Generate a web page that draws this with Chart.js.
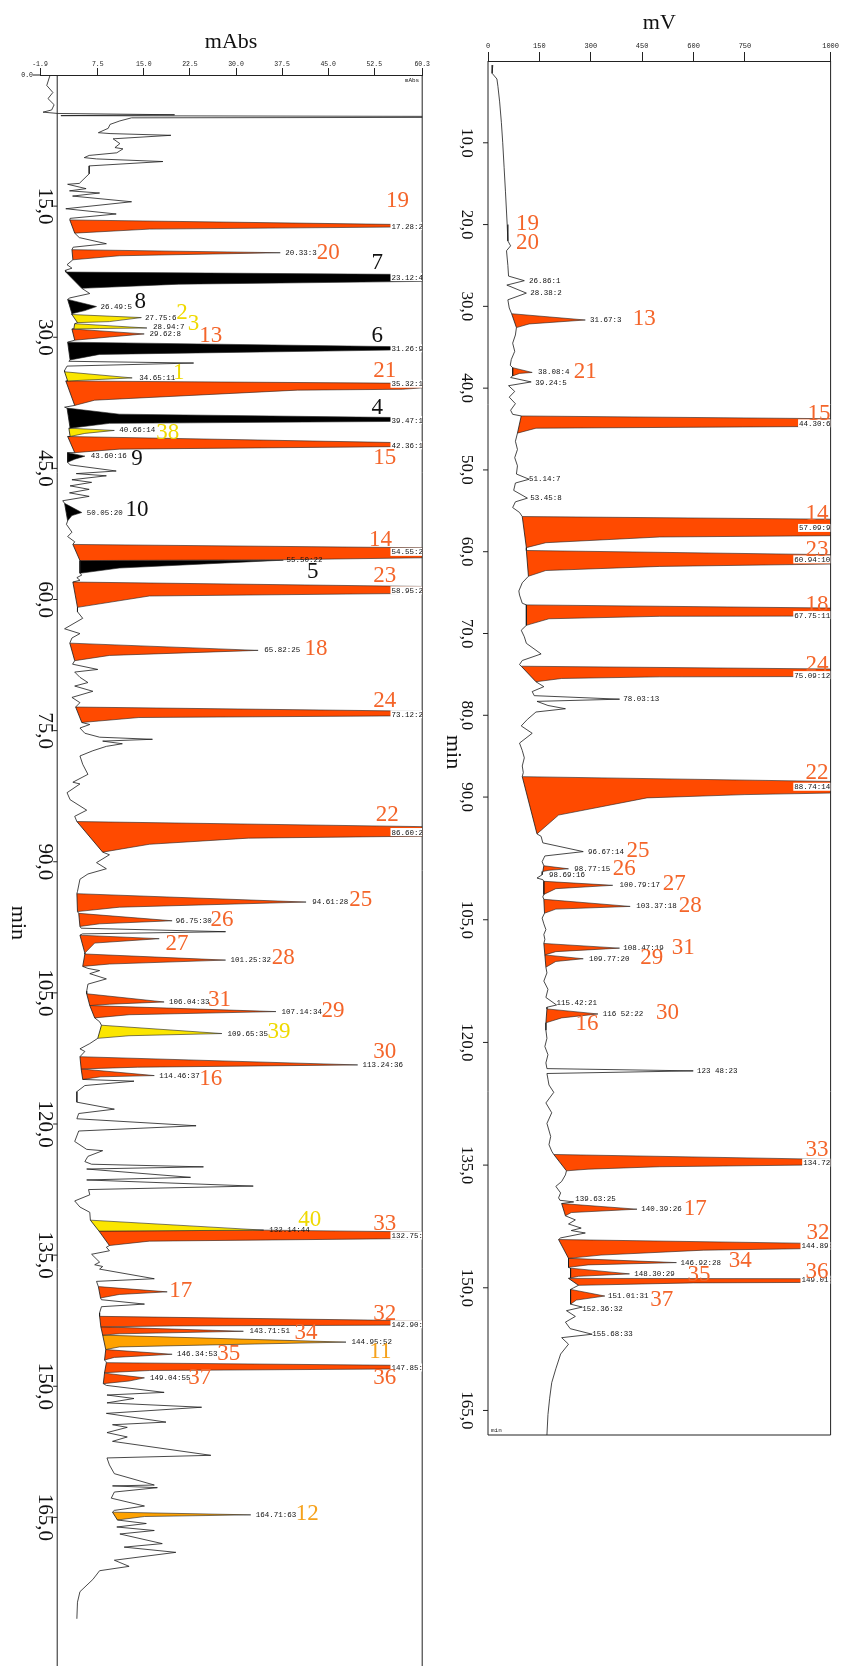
<!DOCTYPE html>
<html>
<head>
<meta charset="utf-8">
<script src="https://cdn.jsdelivr.net/npm/chart.js@4.4.1/dist/chart.umd.min.js"></script>
<style>
  body { margin: 0; background: #fff; width: 841px; height: 1666px; position: relative; overflow: hidden; }
  #left { position: absolute; left: 0; top: 0; }
  #right { position: absolute; left: 430px; top: 0; }
</style>
</head>
<body>
<canvas id="left" width="430" height="1666"></canvas>
<canvas id="right" width="411" height="1460"></canvas>
<script>
// ---- left chromatogram (mAbs) ----
const leftXTicks = [-1.9, 7.5, 15.0, 22.5, 30.0, 37.5, 45.0, 52.5, 60.3];
const leftXTickLabels = ['-1.9', '7.5', '15.0', '22.5', '30.0', '37.5', '45.0', '52.5', '60.3'];
const leftTimeTicks = [0, 15, 30, 45, 60, 75, 90, 105, 120, 135, 150, 165];
const leftTimeLabels = ['0.0', '15,0', '30,0', '45,0', '60,0', '75,0', '90,0', '105,0', '120,0', '135,0', '150,0', '165,0'];

const leftTraceT = [0.1,1.2,2.0,2.7,3.4,4.0,4.25,4.4,4.55,4.65,
  4.8,4.9,5.25,5.65,6.1,6.6,6.7,6.9,7.3,7.85,
  8.3,8.45,8.9,9.2,9.45,9.6,9.9,10.4,11.3,12.4,
  12.5,13.0,13.25,13.5,13.85,14.5,15.3,15.9,16.4,18.6,
  19.3,19.7,21.7,22.1,22.35,25.0,25.5,32.75,32.95,33.3,
  33.8,38.0,44.6,45.3,45.6,45.85,46.3,46.6,47.0,47.4,
  47.8,48.2,48.7,51.4,52.3,52.8,53.4,57.2,57.5,57.8,
  61.4,62.15,63.35,63.9,64.4,67.4,68.0,68.3,68.9,69.5,
  69.9,70.5,71.2,71.8,74.3,74.7,75.3,75.75,75.99,76.2,
  76.5,76.8,77.3,77.9,78.85,80.0,80.9,81.1,82.1,82.9,
  84.1,84.8,89.2,90.1,90.8,91.4,92.0,93.4,97.6,98.0,
  98.25,102.2,102.45,102.8,103.4,104.0,104.8,108.3,110.8,111.4,
  111.7,115.1,115.6,116.3,117.5,118.3,118.8,119.4,120.2,120.8,
  122.0,122.9,123.05,123.7,124.3,124.6,124.9,125.15,126.1,126.4,
  127.1,127.5,128.1,128.8,129.5,130.1,134.1,134.5,134.9,135.8,
  136.1,136.3,136.6,137.7,138.0,140.1,140.6,140.9,141.6,147.15,
  149.9,150.7,151.0,151.4,151.9,152.4,153.1,154.1,154.4,154.7,
  155.3,155.8,156.3,157.9,158.2,159.0,160.0,161.3,161.4,161.6,
  162.1,162.8,163.7,164.2,165.7,166.1,166.5,166.9,168.0,168.4,
  169.0,169.9,170.6,171.1,172.1,173.5,174.7,176.6];
const leftTraceV = [-0.3,-0.8,0.2,-0.6,0.4,0.0,-1.4,1.0,20.0,1.5,
  110,13.0,11.1,9.5,9.2,7.6,9.5,19.4,10.0,11.1,
  10.3,11.6,10.6,6.1,5.3,7.3,18.1,6.1,6.1,4.5,
  2.6,5.6,2.9,7.8,3.4,13.0,2.3,10.5,3.0,4.5,
  8.9,3.5,2.5,3.3,2.2,6.2,2.95,2.8,23.1,2.5,
  2.1,2.1,3.0,10.5,4.0,8.9,3.3,6.5,3.0,6.1,
  2.9,6.1,1.8,2.4,3.3,2.6,3.75,4.9,4.1,4.6,
  4.2,5.05,2.1,4.6,3.3,3.4,7.5,3.75,4.6,5.9,
  3.75,6.7,3.3,4.6,6.2,4.6,5.4,7.8,16.4,8.3,
  11.5,8.9,6.7,4.6,5.05,5.9,3.45,4.6,2.5,3.0,
  5.7,3.75,9.4,7.3,8.9,5.9,4.6,4.2,4.8,28.3,
  5.0,5.9,7.8,6.2,8.9,5.9,5.7,7.8,6.2,4.6,
  5.4,13.4,5.4,4.1,4.1,10.2,4.4,4.1,23.5,4.4,
  3.75,5.7,8.3,5.9,5.4,6.5,24.7,5.7,22.6,5.7,
  32.8,6.0,6.2,3.75,4.6,6.2,8.9,9.4,6.5,7.8,
  7.0,8.3,7.8,16.7,7.3,8.1,15.1,8.1,7.8,8.8,
  8.9,18.3,9.0,13.4,9.0,24.4,8.9,18.6,9.9,12.3,
  9.0,12.3,9.9,25.9,9.0,9.4,10.2,16.7,9.9,17.2,
  10.2,9.7,15.1,10.2,15.4,10.6,16.7,11.1,18.0,11.8,
  20.2,10.2,12.6,7.8,6.7,4.6,4.2,4.1];

// integrated peaks: numbers, class (r orange, k black, y yellow, a amber), outline vertices
const leftPeakIds = ['19','20','7','8','2','3','13','6','1','21','4','38','15','9','10','14','5','23','18','24',
  '22','25','26','27','28','31','29','39','30','16','40','33','17','32','34','11','35','36','37','12'];
const leftPeakGroups = ['r','r','k','k','y','y','r','k','y','r','k','y','r','k','k','r','k','r','r','r',
  'r','r','r','r','r','r','r','y','r','r','y','r','r','r','r','a','r','r','r','a'];
const leftPeakT = [
  [16.58,17.28,17.63,18.09], [19.98,20.33,20.68,21.14], [22.54,23.12,23.93,24.4], [25.67,26.49,26.95,27.3],
  [27.4,27.75,28.21,28.33], [28.45,28.94,29.0,29.05], [29.05,29.62,29.97,30.34], [30.56,31.26,31.96,32.6],
  [33.95,34.65,34.88,35.0], [35.0,35.32,35.95,36.05,37.2,37.8], [38.1,38.8,39.47,39.85,40.4], [40.4,40.66,41.0,41.35],
  [41.35,42.36,42.8,43.2], [43.2,43.6,43.95,44.3], [49.0,50.05,50.4,51.0], [53.7,54.55,55.45,55.55],
  [55.55,55.5,56.4,57.0], [58.0,58.95,59.6,60.9], [64.99,65.82,66.4,67.0], [72.3,73.12,73.5,74.07],
  [85.4,86.6,87.3,88.0,88.9], [93.65,94.61,95.2,95.7], [95.9,96.75,97.1,97.4], [98.4,98.8,99.3,100.45],
  [100.55,101.25,101.7,101.97], [105.1,106.04,106.3,106.45], [106.45,107.14,107.5,107.86], [108.7,109.65,109.9,110.2],
  [112.3,113.24,113.5,113.7], [113.7,114.46,114.6,114.9], [131.0,132.14,132.25], [132.25,132.14,132.75,133.4,133.9],
  [138.6,139.2,139.5,139.9], [142.0,142.9,143.1,143.2], [143.2,143.71,144.0,144.15], [144.15,144.95,145.3,145.5,145.8],
  [145.8,146.34,146.7,147.0], [147.3,147.85,148.2,148.45], [148.5,149.04,149.4,149.7], [164.4,164.71,164.9,165.3]];
const leftPeakV = [
  [2.95,75,15.9,3.75], [3.3,37.2,11.0,3.45], [2.3,120,20.7,4.9], [2.6,7.3,5.4,3.3],
  [3.3,14.6,9.4,4.2], [3.75,15.5,7.8,3.6], [3.3,15.06,9.4,3.75], [2.6,75,7.8,3.0],
  [2.1,13.1,6.2,2.6], [2.3,70,57.1,40,7.0,3.75], [2.5,11.0,90,9.4,3.0], [2.8,10.2,5.4,3.0],
  [2.6,80,11.0,3.75], [2.6,5.4,3.75,2.6], [2.1,4.9,3.3,2.6], [3.45,130,37.7,4.6],
  [4.6,37.7,11.0,4.6], [3.45,110,15.9,4.2], [2.95,33.6,9.4,3.75], [3.9,100,14.2,4.9],
  [4.1,120,32.0,15.9,8.3], [4.1,41.4,11.0,4.2], [4.4,19.6,7.8,4.6], [4.6,17.5,7.0,5.4],
  [5.4,28.3,9.4,5.05], [5.7,18.3,9.4,6.2], [6.2,36.5,12.6,7.0], [8.1,27.7,12.6,7.5],
  [4.6,49.8,14.0,4.8], [4.8,16.7,8.0,5.05], [6.3,34.5,7.7], [7.7,34.5,110,15.9,9.4],
  [7.6,18.8,11.0,7.95], [7.8,100,20,8.0], [8.0,31.2,11.0,8.3], [8.3,47.9,24,11,8.8],
  [8.8,19.6,10.2,8.6], [8.9,95,15.9,8.6], [8.6,15.1,12.6,8.4], [9.9,32.4,15.1,10.7]];
// where each peak number is written (time, mAbs)
const leftNumT = [14.4,20.33,21.5,26.0,27.2,28.5,29.9,29.8,34.1,33.9,38.1,40.9,43.8,43.9,49.7,53.2,56.8,57.3,65.6,71.6,
  84.7,94.4,96.65,99.4,101.0,105.8,107.1,109.5,111.7,114.9,131.0,131.4,139.1,141.7,143.9,146.1,146.3,149.1,149.1,164.6];
const leftNumV = [56.3,45.0,53.0,14.4,21.2,23.1,25.9,53.0,20.7,54.2,53.0,18.9,54.2,13.9,13.9,53.5,42.5,54.2,43.0,54.2,
  54.6,50.3,27.7,20.4,37.7,27.3,45.8,37.0,54.2,25.9,42.0,54.2,21.0,54.2,41.4,53.5,28.8,54.2,24.1,41.6];
// retention time : peak index labels printed by the integrator
const leftRtText = ['17.28:2','20.33:3','23.12:4','26.49:5','27.75:6','28.94:7','29.62:8','31.26:9','34.65:11','35.32:12',
  '39.47:13','40.66:14','42.36:15','43.60:16','50.05:20','54.55:21','55.50:22','58.95:23','65.82:25','73.12:26',
  '86.60:27','94.61:28','96.75:30','101.25:32','106.04:33','107.14:34','109.65:35','113.24:36','114.46:37','132.14:44',
  '132.75:45','142.90:50','143.71:51','144.95:52','146.34:53','147.85:54','149.04:55','164.71:63'];
const leftRtT = [17.28,20.33,23.12,26.49,27.75,28.8,29.62,31.26,34.65,35.32,
  39.47,40.66,42.36,43.60,50.05,54.55,55.50,58.95,65.82,73.12,
  86.60,94.61,96.75,101.25,106.04,107.14,109.65,113.24,114.46,132.14,
  132.75,142.90,143.71,144.95,146.34,147.85,149.04,164.71];
const leftRtV = [55.3,38.0,55.3,7.95,15.2,16.5,15.9,55.3,14.25,55.3,
  55.3,11.0,55.3,6.35,5.7,55.3,38.2,55.3,34.6,55.3,
  55.3,42.4,20.2,29.1,19.1,37.4,28.6,50.6,17.5,35.4,
  55.3,55.3,32.2,48.8,20.4,55.3,16.0,33.2];

// ---- right chromatogram (mV) ----
const rightXTicks = [0, 150, 300, 450, 600, 750, 1000];
const rightXTickLabels = ['0', '150', '300', '450', '600', '750', '1000'];
const rightTimeTicks = [10, 20, 30, 40, 50, 60, 70, 80, 90, 105, 120, 135, 150, 165];
const rightTimeLabels = ['10,0','20,0','30,0','40,0','50,0','60,0','70,0','80,0','90,0','105,0','120,0','135,0','150,0','165,0'];

const rightTraceT = [0.5,1.5,2.2,3.1,5,7.5,10,13,16,20,
  22.0,22.6,23.2,25.0,26.3,26.86,27.4,28.38,29.2,30.2,
  33.5,34.5,35.5,36.5,37.2,38.7,39.24,39.7,40.4,41.1,
  41.9,42.7,43.2,46.5,47.5,48.5,49.5,50.5,51.14,51.6,
  52.5,53.45,53.9,54.6,55.2,63.8,64.8,65.3,66.3,69.6,
  70.4,71.2,72.5,73.3,73.8,76.5,77.1,77.6,78.03,78.3,
  78.8,79.2,79.6,80.5,81.3,82.2,83.4,84.3,85.2,86.2,
  87.0,94.8,95.6,96.67,97.2,97.9,99.5,99.9,100.1,102.2,
  104.8,105.5,106.2,106.8,107.4,111.5,112.5,113.5,114.5,115.42,
  115.7,118.5,119.5,120.5,121.5,122.5,123.2,123.48,123.8,124.5,
  125.2,126.1,127.4,128.6,129.9,131.5,132.5,133.3,136.2,137.0,
  137.6,138.4,139.0,139.3,139.5,141.7,142.2,142.7,143.0,143.3,
  143.9,150.0,152.36,152.8,153.5,154.2,155.0,155.68,156.1,156.9,
  158.1,159.9,161.6,163.5,165.5,168];
const rightTraceV = [14,12,26,29,34,39,43,47,51,56,
  58,66,54,58,60,106,55,112,58,62,
  80,72,78,68,65,66,126,60,78,62,
  80,66,72,80,86,78,86,83,120,80,
  75,115,80,72,92,100,90,92,100,97,
  106,112,155,100,92,163,129,135,384,143,
  175,226,140,115,97,129,92,100,106,100,
  103,155,160,278,166,158,158,143,160,160,
  158,163,169,163,166,172,163,175,169,200,
  172,169,172,166,175,169,172,599,172,175,
  178,192,169,186,172,183,178,186,226,215,
  198,212,206,210,250,255,235,272,243,284,
  212,250,275,229,255,226,240,304,215,235,
  212,198,186,180,175,172];

const rightPeakIds = ['13','21','15','14','23','18','24','22','26','27','28','31','29','30','33','17','32','34','35','36','37'];
const rightPeakT = [
  [30.9,31.67,32.15,32.6], [37.5,38.08,38.2,38.5], [43.4,44.3,44.9,45.5], [55.7,57.09,58.2,58.9,59.5],
  [59.85,60.94,61.8,62.3,63.0], [66.5,67.75,67.9,68.2,69.0], [74.0,75.09,75.3,75.5,75.9], [87.5,88.74,89.7,90.1,92.2,94.5],
  [98.4,98.77,98.95,99.1], [100.3,100.79,101.2,101.9], [102.5,103.37,103.7,104.2], [107.9,108.47,108.9,109.3],
  [109.3,109.77,110.1,110.8], [115.9,116.52,117.0,117.6], [133.7,134.7,135.2,135.5,135.7], [139.7,140.39,140.8,141.2],
  [144.1,144.89,145.4,146.0,146.4], [146.4,146.92,147.2,147.5], [147.6,148.3,148.6,148.8], [148.85,149.01,149.4,149.7],
  [150.2,151.01,151.5,152.0]];
const rightPeakV = [
  [69,284,120,83], [72,129,92,72], [97,2500,140,86], [100,4000,501,169,112],
  [112,2000,501,169,118], [112,3000,501,178,112], [97,3000,501,215,140], [100,2000,750,464,206,143],
  [163,235,178,160], [163,364,198,163], [163,415,198,165], [163,384,198,166],
  [166,278,198,169], [172,321,215,169], [192,1540,501,292,229], [215,435,243,226],
  [206,1460,630,330,235], [235,550,292,235], [241,413,264,241], [235,3000,600,264],
  [241,341,258,241]];
const rightNumText = ['19','20','13','21','15','14','23','18','24','22','25','26','27','28','31','29','30','16','33','17','32','34','35','36','37'];
const rightNumT = [19.9,22.2,31.5,38.0,43.2,55.4,59.8,66.5,73.8,87.0,96.6,98.8,100.6,103.3,108.5,109.7,116.4,117.8,133.2,140.3,143.3,146.7,148.4,148.1,151.5];
const rightNumV = [115,115,456,284,966,960,960,960,960,960,438,398,544,590,570,478,524,289,960,605,963,736,616,960,507];
const rightRtText = ['26.86:1','28.38:2','31.67:3','38.08:4','39.24:5','44.30:6','51.14:7','53.45:8','57.09:9','60.94:10',
  '67.75:11','75.09:12','78.03:13','88.74:14','96.67:14','98.77:15','98.69:16','100.79:17','103.37:18','108.47:19',
  '109.77:20','115.42:21','116 52:22','123 48:23','134.72:24','139.63:25','140.39:26','144.89:27','146.92:28','148.30:29',
  '149.01:30','151.01:31','152.36:32','155.68:33'];
const rightRtT = [26.86,28.38,31.67,38.08,39.4,44.30,51.14,53.45,57.09,60.94,
  67.75,75.09,78.03,88.74,96.67,98.77,99.5,100.79,103.37,108.47,
  109.77,115.2,116.52,123.48,134.7,139.2,140.39,144.89,146.92,148.30,
  149.01,151.01,152.6,155.68];
const rightRtV = [120,123,298,146,138,908,120,123,908,894,
  894,894,395,894,292,252,178,384,433,395,
  295,200,335,610,920,255,447,915,562,427,
  915,350,275,304];

// ---- drawing ----
const mono = '"Liberation Mono", "DejaVu Sans Mono", monospace';
const serif = '"Liberation Serif", "DejaVu Serif", serif';
const fillColors = { r: '#ff4a00', k: '#000000', y: '#fbe600', a: '#ffa200' };
const textColors = { r: '#f4652a', k: '#111111', y: '#efd900', a: '#f6a21c' };

function peakSets(groups, ts, vs) {
  return ts.map((tt, i) => ({
    data: tt.map((t, j) => ({ x: vs[i][j], y: t })),
    showLine: true,
    fill: 'shape',
    backgroundColor: fillColors[groups[i]],
    borderColor: '#222',
    borderWidth: 0.6,
    borderJoinStyle: 'round',
    pointRadius: 0
  }));
}

function traceSet(traceT, traceV, ts, vs) {
  const pts = traceT.map((t, i) => ({ x: traceV[i], y: t }));
  // the trace runs along the baseline of every integrated peak
  ts.forEach((tt, i) => {
    pts.push({ x: vs[i][0], y: tt[0] });
    pts.push({ x: vs[i][vs[i].length - 1], y: tt[tt.length - 1] });
  });
  pts.sort((a, b) => a.y - b.y);
  return { data: pts, showLine: true, fill: false, borderColor: '#1a1a1a', borderWidth: 0.8, pointRadius: 0 };
}

function decor(opt) {
  return {
    id: 'decor',
    afterDatasetsDraw(chart) {
      const { ctx, chartArea: a } = chart;
      const xs = chart.scales.x, ys = chart.scales.y;
      const fx = xs.getPixelForValue(opt.frameValue);
      ctx.save();
      ctx.strokeStyle = '#222';
      ctx.lineWidth = 1;
      ctx.beginPath();
      ctx.moveTo(fx, a.top); ctx.lineTo(fx, a.bottom);
      ctx.moveTo(a.right, a.top); ctx.lineTo(a.right, a.bottom);
      if (opt.closeBottom) { ctx.moveTo(fx, a.bottom); ctx.lineTo(a.right, a.bottom); }
      ctx.stroke();

      // time axis, labels turned a quarter
      ctx.fillStyle = '#111';
      opt.timeTicks.forEach((t, i) => {
        const py = ys.getPixelForValue(t);
        if (t === 0) {
          ctx.beginPath(); ctx.moveTo(a.left - 7, py); ctx.lineTo(a.left, py); ctx.stroke();
          ctx.font = '6.5px ' + mono; ctx.textAlign = 'right'; ctx.textBaseline = 'middle';
          ctx.fillText(opt.timeLabels[i], a.left - 7, py);
          return;
        }
        ctx.beginPath(); ctx.moveTo(fx - opt.tickLen, py); ctx.lineTo(fx, py); ctx.stroke();
        ctx.save();
        ctx.translate(fx - opt.labelGap, py);
        ctx.rotate(Math.PI / 2);
        ctx.font = opt.timeFont; ctx.textAlign = 'center'; ctx.textBaseline = 'middle';
        ctx.fillText(opt.timeLabels[i], 0, 0);
        ctx.restore();
      });
      ctx.save();
      ctx.translate(fx - opt.minGap, ys.getPixelForValue(opt.minAt));
      ctx.rotate(Math.PI / 2);
      ctx.font = '22px ' + serif; ctx.textAlign = 'center'; ctx.textBaseline = 'middle';
      ctx.fillText('min', 0, 0);
      ctx.restore();

      ctx.font = '6px ' + mono; ctx.textBaseline = 'middle';
      if (opt.cornerUnit) { ctx.textAlign = 'right'; ctx.fillText(opt.cornerUnit, a.right - 3, a.top + 5); }
      if (opt.cornerMin) { ctx.textAlign = 'left'; ctx.fillText('min', fx + 3, a.bottom - 5); }

      // integrator labels
      ctx.font = '7.5px ' + mono; ctx.textAlign = 'left'; ctx.textBaseline = 'middle';
      opt.rtText.forEach((s, i) => {
        const px = xs.getPixelForValue(opt.rtV[i]);
        const py = ys.getPixelForValue(opt.rtT[i]);
        if (a.right - px < 40) {
          ctx.save();
          ctx.beginPath(); ctx.rect(a.left, a.top, a.right - a.left, a.bottom - a.top); ctx.clip();
          ctx.fillStyle = '#fff'; ctx.fillRect(px - 1, py - 4, a.right - px + 1, 8);
          ctx.fillStyle = '#111'; ctx.fillText(s, px, py + 0.5);
          ctx.restore();
        } else {
          ctx.fillStyle = '#111'; ctx.fillText(s, px, py);
        }
      });

      // compound numbers
      ctx.font = '23px ' + serif; ctx.textAlign = 'center'; ctx.textBaseline = 'middle';
      opt.numText.forEach((s, i) => {
        ctx.fillStyle = textColors[opt.numGroup[i]];
        ctx.fillText(s, xs.getPixelForValue(opt.numV[i]), ys.getPixelForValue(opt.numT[i]));
      });
      ctx.restore();
    }
  };
}

function xAxis(min, max, ticks, labels, title, titlePad, height, tickLen, fontSize, labelPad) {
  return {
    type: 'linear', position: 'top', min: min, max: max,
    afterBuildTicks: s => { s.ticks = ticks.map(v => ({ value: v })); },
    afterFit: s => { s.height = height; },
    ticks: { callback: (v, i) => labels[i], autoSkip: false, maxRotation: 0, minRotation: 0,
             font: { family: mono, size: fontSize }, color: '#222', padding: labelPad },
    grid: { drawOnChartArea: false, drawTicks: true, tickLength: tickLen, color: '#222', lineWidth: 1 },
    border: { display: true, color: '#222', width: 1 },
    title: { display: true, text: title, color: '#111', font: { family: serif, size: 22 },
             padding: { top: titlePad, bottom: 0 } }
  };
}

function makeChart(id, datasets, xScale, yMax, padding, plugin) {
  return new Chart(document.getElementById(id), {
    type: 'scatter',
    data: { datasets: datasets },
    options: {
      responsive: false, animation: false, devicePixelRatio: 1, events: [],
      layout: { padding: padding },
      plugins: { legend: { display: false }, tooltip: { enabled: false } },
      scales: {
        x: xScale,
        y: { type: 'linear', reverse: true, min: 0, max: yMax, display: false }
      }
    },
    plugins: [plugin]
  });
}

makeChart('left',
  [traceSet(leftTraceT, leftTraceV, leftPeakT, leftPeakV)].concat(peakSets(leftPeakGroups, leftPeakT, leftPeakV)),
  xAxis(-1.9, 60.3, leftXTicks, leftXTickLabels, 'mAbs', 29, 75, 7, 6.5, 0),
  182,
  { left: 40, right: 5, top: 0, bottom: 0 },
  decor({ frameValue: 0.9, closeBottom: false, timeTicks: leftTimeTicks, timeLabels: leftTimeLabels,
          tickLen: 4, labelGap: 13, timeFont: '21px ' + serif, minGap: 39, minAt: 97,
          cornerUnit: 'mAbs', cornerMin: false,
          rtText: leftRtText, rtT: leftRtT, rtV: leftRtV,
          numText: leftPeakIds, numGroup: leftPeakGroups, numT: leftNumT, numV: leftNumV }));

makeChart('right',
  [traceSet(rightTraceT, rightTraceV, rightPeakT, rightPeakV)].concat(peakSets(rightPeakIds.map(() => 'r'), rightPeakT, rightPeakV)),
  xAxis(0, 1000, rightXTicks, rightXTickLabels, 'mV', 10, 61, 9, 7, 2),
  168,
  { left: 58, right: 4, top: 0, bottom: 25 },
  decor({ frameValue: 0, closeBottom: true, timeTicks: rightTimeTicks, timeLabels: rightTimeLabels,
          tickLen: 5, labelGap: 22, timeFont: '17px ' + serif, minGap: 35, minAt: 84.5,
          cornerUnit: null, cornerMin: true,
          rtText: rightRtText, rtT: rightRtT, rtV: rightRtV,
          numText: rightNumText, numGroup: rightNumText.map(() => 'r'), numT: rightNumT, numV: rightNumV }));
</script>
</body>
</html>
